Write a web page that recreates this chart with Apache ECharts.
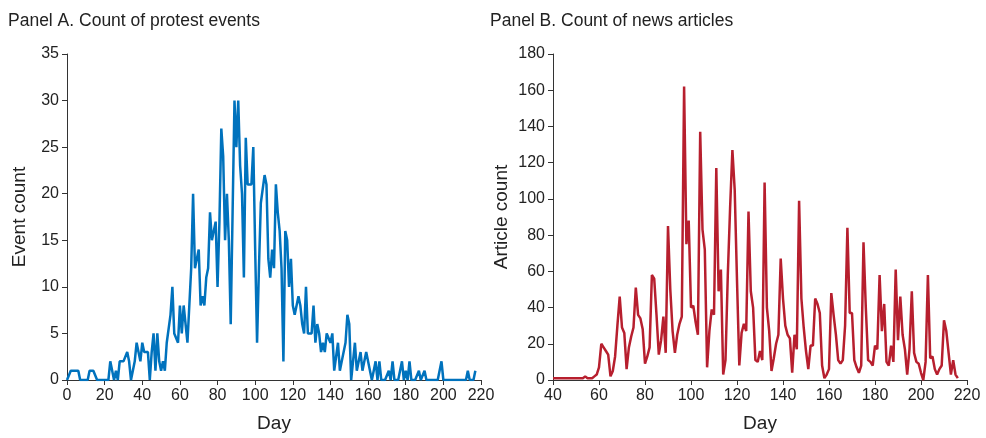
<!DOCTYPE html>
<html>
<head>
<meta charset="utf-8">
<script src="https://cdn.jsdelivr.net/npm/echarts@6/dist/echarts.min.js"></script>
<style>
  html, body { margin: 0; padding: 0; background: #fff; }
  #chart { width: 986px; height: 438px; }
</style>
</head>
<body>
<div id="chart"></div>
<script>
// Panel A: protest events per day, starting at day 0
var protestStartDay = 0;
var protestCounts = [
  0, 0, 1, 1, 1, 1, 1, 0, 0, 0,
  0, 0, 1, 1, 1, 1, 0, 0, 0, 0,
  0, 0, 0, 2, 2, 0, 1, 0, 2, 2,
  2, 2, 3, 2, 0, 0, 2, 4, 4, 2,
  4, 3, 3, 3, 0, 3, 5, 1, 5, 2,
  1, 2, 1, 4, 4, 7, 10, 5, 5, 4,
  8, 5, 8, 8, 4, 4, 12, 20, 12, 12,
  14, 8, 9, 8, 11, 12, 18, 15, 15, 17,
  10, 17, 27, 24, 15, 20, 15, 6, 18, 30,
  25, 30, 23, 20, 11, 26, 21, 21, 21, 25,
  14, 4, 12, 19, 19, 22, 21, 13, 11, 14,
  12, 21, 18, 16, 12, 2, 16, 15, 10, 13,
  8, 7, 7, 9, 8, 6, 5, 10, 5, 5,
  5, 8, 4, 6, 5, 3, 4, 3, 5, 5,
  4, 5, 1, 1, 4, 1, 2, 2, 4, 7,
  6, 0, 2, 4, 1, 1, 3, 1, 2, 3,
  3, 1, 0, 1, 2, 0, 2, 0, 0, 0,
  0, 1, 0, 2, 0, 0, 0, 0, 2, 0,
  1, 0, 2, 0, 0, 0, 0, 1, 0, 0,
  1, 0, 0, 0, 0, 0, 0, 0, 0, 2,
  0, 0, 0, 0, 0, 0, 0, 0, 0, 0,
  0, 0, 0, 1, 0, 0, 0, 1
];

// Panel B: news articles per day, starting at day 40
var articleStartDay = 40;
var articleCounts = [
  1, 1, 1, 1, 1, 1, 1, 1, 1, 1,
  1, 1, 1, 1, 2, 1, 1, 1, 2, 3,
  7, 20, 18, 16, 14, 2, 5, 13, 30, 46,
  29, 26, 6, 18, 24, 29, 51, 36, 34, 28,
  9, 13, 18, 58, 56, 36, 14, 22, 35, 15,
  85, 50, 27, 15, 25, 31, 35, 162, 75, 88,
  40, 41, 32, 25, 137, 83, 72, 7, 27, 39,
  36, 117, 49, 61, 3, 11, 58, 95, 127, 105,
  55, 8, 26, 31, 27, 93, 49, 40, 11, 10,
  16, 11, 109, 40, 27, 5, 12, 20, 25, 67,
  45, 30, 25, 23, 4, 25, 17, 99, 45, 29,
  16, 6, 19, 19, 45, 42, 37, 8, 1, 3,
  6, 48, 36, 25, 11, 9, 11, 30, 84, 37,
  37, 11, 7, 4, 8, 76, 40, 11, 10, 8,
  19, 17, 58, 27, 42, 10, 8, 19, 10, 61,
  22, 46, 25, 17, 3, 17, 49, 15, 10, 9,
  4, 0, 10, 58, 12, 13, 6, 3, 6, 8,
  33, 27, 15, 3, 11, 3, 1
];

var protestXTicks = [0, 220, 20];
var protestYTicks = [0, 35, 5];
var articleXTicks = [40, 220, 20];
var articleYTicks = [0, 180, 20];

function toPoints(start, values) {
  return values.map(function (v, i) { return [start + i, v]; });
}

var axisColor = '#333';
var textColor = '#222';
var fontFamily = 'Liberation Sans, Arial, sans-serif';

function makeX(gridIndex, ticks) {
  return {
    type: 'value', gridIndex: gridIndex,
    min: ticks[0], max: ticks[1], interval: ticks[2],
    name: 'Day', nameLocation: 'middle', nameGap: 34,
    nameTextStyle: { fontSize: 19, color: textColor, fontFamily: fontFamily },
    axisLine: { show: true, onZero: false, lineStyle: { color: axisColor, width: 1 } },
    axisTick: { show: true, length: 5, lineStyle: { color: axisColor } },
    axisLabel: { fontSize: 16, color: textColor, margin: 8, fontFamily: fontFamily },
    splitLine: { show: false }
  };
}

function makeY(gridIndex, ticks, name, gap) {
  return {
    type: 'value', gridIndex: gridIndex,
    min: ticks[0], max: ticks[1], interval: ticks[2],
    name: name, nameLocation: 'middle', nameGap: gap,
    nameTextStyle: { fontSize: 19, color: textColor, fontFamily: fontFamily },
    axisLine: { show: true, lineStyle: { color: axisColor, width: 1 } },
    axisTick: { show: true, length: 5, lineStyle: { color: axisColor } },
    axisLabel: { fontSize: 16, color: textColor, margin: 8, fontFamily: fontFamily },
    splitLine: { show: false }
  };
}

var option = {
  backgroundColor: '#fff',
  animation: false,
  title: [
    { text: 'Panel A. Count of protest events', left: 3, top: 7,
      textStyle: { fontSize: 17.5, fontWeight: 'normal', color: textColor, fontFamily: fontFamily } },
    { text: 'Panel B. Count of news articles', left: 485, top: 7,
      textStyle: { fontSize: 17.5, fontWeight: 'normal', color: textColor, fontFamily: fontFamily } }
  ],
  grid: [
    { left: 67, top: 54, width: 414, height: 330 },
    { left: 553, top: 54, width: 414, height: 330 }
  ],
  xAxis: [makeX(0, protestXTicks), makeX(1, articleXTicks)],
  yAxis: [makeY(0, protestYTicks, 'Event count', 38), makeY(1, articleYTicks, 'Article count', 42)],
  series: [
    {
      type: 'line', xAxisIndex: 0, yAxisIndex: 0,
      data: toPoints(protestStartDay, protestCounts),
      showSymbol: false,
      lineStyle: { color: '#0072BD', width: 2.5 },
      itemStyle: { color: '#0072BD' }
    },
    {
      type: 'line', xAxisIndex: 1, yAxisIndex: 1,
      data: toPoints(articleStartDay, articleCounts),
      showSymbol: false,
      lineStyle: { color: '#B71F2E', width: 2.5 },
      itemStyle: { color: '#B71F2E' }
    }
  ]
};

var chart = echarts.init(document.getElementById('chart'));
chart.setOption(option);
</script>
</body>
</html>
